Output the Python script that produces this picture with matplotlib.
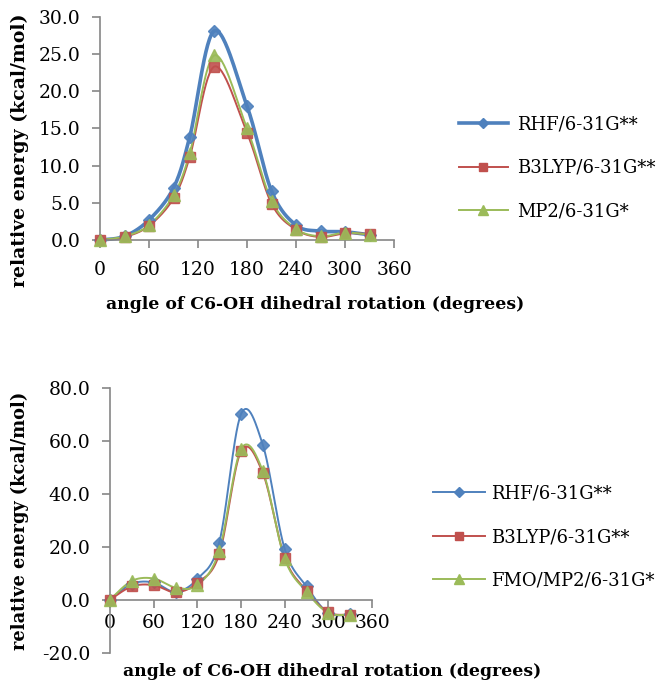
import numpy as np
from matplotlib import pyplot as plt
from matplotlib.lines import Line2D

# top panel
angles_top = [0, 30, 60, 90, 110, 140, 180, 210, 240, 270, 300, 330]
rhf_top = [0.0, 0.5, 2.7, 7.0, 13.9, 28.1, 18.0, 6.6, 2.0, 1.2, 1.1, 0.7]
b3lyp_top = [0.0, 0.4, 1.9, 5.6, 11.2, 23.3, 14.4, 4.9, 1.4, 0.4, 0.9, 0.8]
mp2_top = [0.0, 0.5, 2.0, 6.0, 11.7, 24.8, 15.0, 5.3, 1.5, 0.5, 1.0, 0.7]
labels_top = ['RHF/6-31G**', 'B3LYP/6-31G**', 'MP2/6-31G*']

# bottom panel
angles_bot = [0, 30, 60, 90, 120, 150, 180, 210, 240, 270, 300, 330]
rhf_bot = [0.0, 6.0, 6.5, 3.0, 7.8, 21.5, 70.0, 58.4, 19.2, 5.0, -5.0, -5.5]
b3lyp_bot = [0.0, 5.0, 5.5, 2.8, 6.3, 17.1, 56.0, 47.8, 15.9, 3.4, -4.8, -5.6]
fmo_bot = [0.0, 7.1, 8.0, 4.6, 5.5, 18.4, 56.8, 48.5, 15.5, 3.0, -5.0, -5.6]
labels_bot = ['RHF/6-31G**', 'B3LYP/6-31G**', 'FMO/MP2/6-31G*']

xlabel = 'angle of C6-OH dihedral rotation (degrees)'
ylabel = 'relative energy (kcal/mol)'

BLUE = '#4F81BD'
RED = '#C0504D'
GREEN = '#9BBB59'
SPINE = '#868686'
SERIF = 'DejaVu Serif'
W, H = 662, 683


def smooth(x, y, n=30):
    # catmull-rom style bezier, like the spreadsheet "smoothed line"
    p = np.column_stack([x, y]).astype(float)
    p = np.vstack([p[0], p, p[-1]])
    t = np.linspace(0, 1, n)[:, None]
    out = []
    for i in range(1, len(p) - 2):
        p0, p1, p2, p3 = p[i - 1], p[i], p[i + 1], p[i + 2]
        b1 = p1 + (p2 - p0) / 6
        b2 = p2 - (p3 - p1) / 6
        seg = ((1 - t) ** 3) * p1 + 3 * ((1 - t) ** 2) * t * b1 + 3 * (1 - t) * t ** 2 * b2 + t ** 3 * p2
        out.append(seg)
    out = np.vstack(out)
    return out[:, 0], out[:, 1]


def style_axes(ax, xpad, ypad):
    for s in ['top', 'right']:
        ax.spines[s].set_visible(False)
    for s in ['left', 'bottom']:
        ax.spines[s].set_color(SPINE)
        ax.spines[s].set_linewidth(1.2)
    ax.tick_params(colors=SPINE, labelcolor='black', length=6, width=1.2, labelsize=13.5)
    ax.tick_params(axis='x', pad=xpad)
    ax.tick_params(axis='y', pad=ypad)
    for lab in ax.get_xticklabels() + ax.get_yticklabels():
        lab.set_family(SERIF)


def draw(ax, x, series, widths):
    styles = [(BLUE, 'D', 6.5), (RED, 's', 7.5), (GREEN, '^', 8.5)]
    handles = []
    for y, (c, m, ms), lw in zip(series, styles, widths):
        sx, sy = smooth(x, y)
        ax.plot(sx, sy, color=c, lw=lw, clip_on=False, zorder=2)
        ax.plot(x, y, ls='none', marker=m, ms=ms, mfc=c, mec=c, alpha=0.9,
                clip_on=False, zorder=3)
        handles.append(Line2D([], [], color=c, lw=lw, marker=m, ms=ms - 1.5, mfc=c, mec=c))
    return handles


def ftext(x, y, s, **kw):
    fig.text(x / W, 1 - y / H, s, family=SERIF, fontweight='bold', ha='center', va='center', **kw)


fig = plt.figure(figsize=(W / 100, H / 100), dpi=100)

ax1 = fig.add_axes([100 / W, 1 - 240 / H, 294 / W, 223.3 / H])
h1 = draw(ax1, angles_top, [rhf_top, b3lyp_top, mp2_top], [2.6, 1.4, 1.4])
ax1.set_xlim(0, 360)
ax1.set_ylim(0, 30)
ax1.set_xticks(range(0, 361, 60))
ax1.set_yticks(range(0, 31, 5))
ax1.set_yticklabels(['{:.1f}'.format(v) for v in range(0, 31, 5)])
style_axes(ax1, 9, 8)
ftext(315, 305, xlabel, fontsize=12.4)
ftext(20, 150, ylabel, fontsize=13.6, rotation=90)
fig.legend(h1, labels_top, loc='center left', bbox_to_anchor=(459 / W, 1 - 168 / H),
           frameon=False, prop={'family': SERIF, 'size': 13}, handlelength=2.7,
           handletextpad=0.5, labelspacing=1.4, borderpad=0, borderaxespad=0)

ax2 = fig.add_axes([110 / W, 1 - 652.7 / H, 262 / W, 265 / H])
h2 = draw(ax2, angles_bot, [rhf_bot, b3lyp_bot, fmo_bot], [1.4, 1.4, 1.4])
ax2.set_xlim(0, 360)
ax2.set_ylim(-20, 80)
ax2.set_xticks(range(0, 361, 60))
ax2.set_yticks(range(-20, 81, 20))
ax2.set_yticklabels(['{:.1f}'.format(v) for v in range(-20, 81, 20)])
ax2.spines['bottom'].set_position(('data', 0))
style_axes(ax2, 4, 8)
ftext(332, 672, xlabel, fontsize=12.4)
ftext(20, 521, ylabel, fontsize=12.8, rotation=90)
fig.legend(h2, labels_bot, loc='center left', bbox_to_anchor=(433 / W, 1 - 537 / H),
           frameon=False, prop={'family': SERIF, 'size': 13}, handlelength=2.9,
           handletextpad=0.3, labelspacing=1.4, borderpad=0, borderaxespad=0)

plt.savefig('out.png', dpi=100)
